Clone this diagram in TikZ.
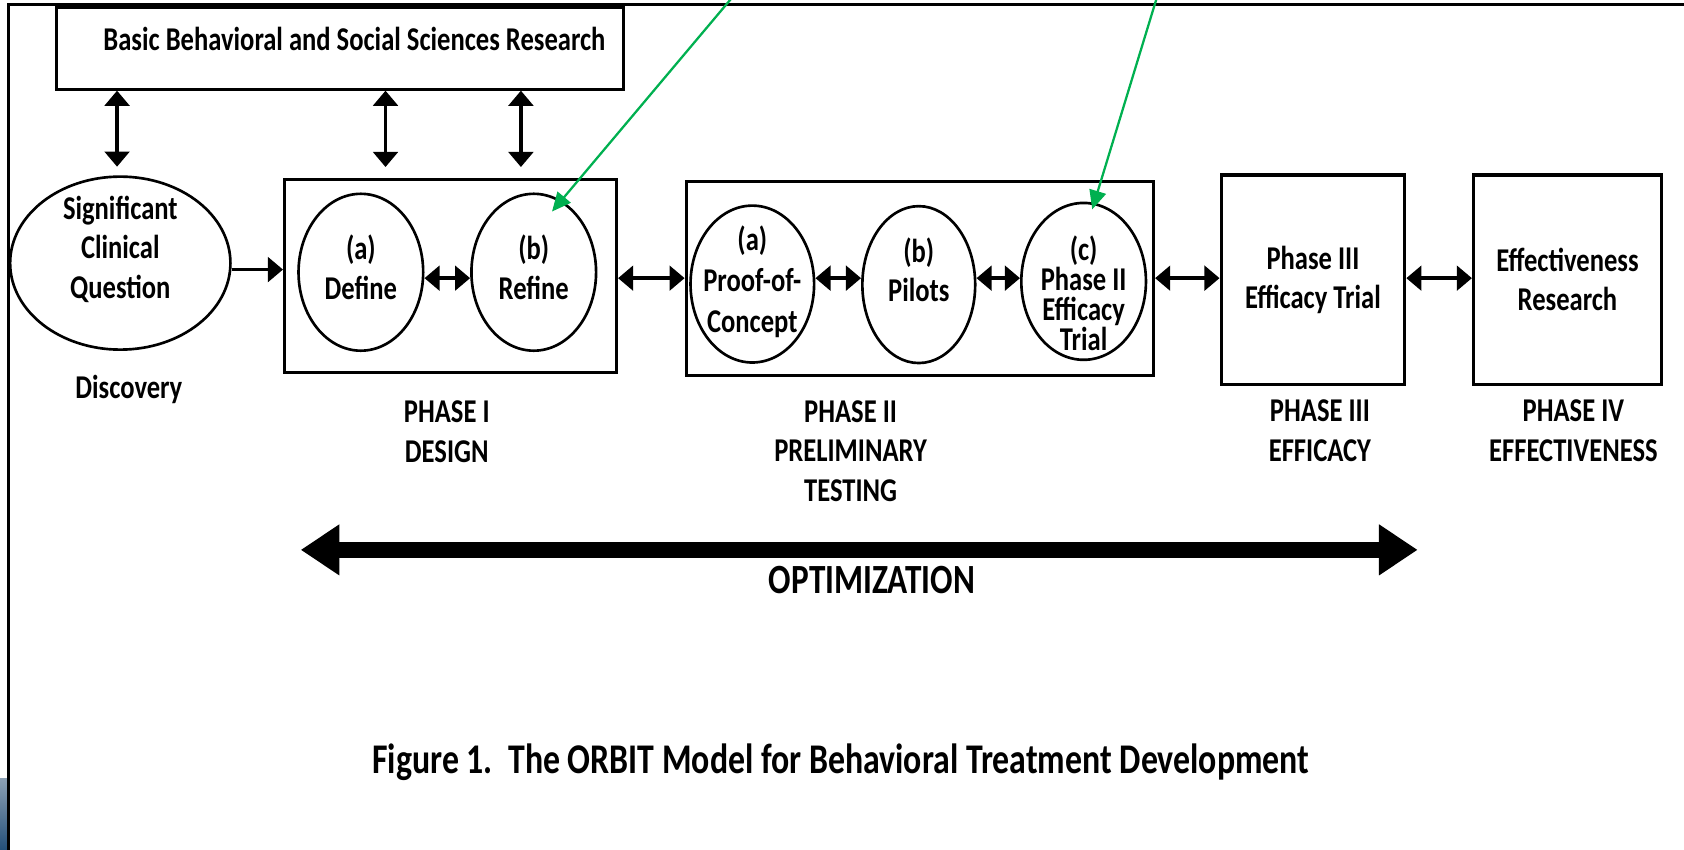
\documentclass[tikz,border=0pt]{standalone}
\usepackage{fontspec}
\setmainfont{Carlito}[FakeStretch=0.80]
\usepackage{tikz}
\usetikzlibrary{arrows.meta,shapes.geometric,positioning}
\definecolor{notegreen}{RGB}{0,176,80}
\definecolor{slideblue}{RGB}{36,80,122}
\definecolor{slidegrey}{RGB}{140,160,180}

\begin{document}
\begin{tikzpicture}[x=0.01cm, y=-0.01cm,
            every node/.style = {font=\bfseries\fontsize{8.8}{10.4}\selectfont,
                    align=center, inner sep=0pt},
            box/.style = {shape=rectangle, draw, line width=0.8pt},
            stage/.style = {shape=ellipse, draw, line width=0.7pt,
                    minimum width=1.16cm, minimum height=1.46cm},
            link/.style = {line width=0.9pt, >={Triangle[length=4pt,width=6.5pt]}},
            callout/.style = {draw=notegreen, line width=0.6pt,
                    -{Triangle[length=5pt,width=4.5pt]}},
            big/.style = {font=\bfseries\fontsize{11}{13}\selectfont}]
    \useasboundingbox (0,0) rectangle (1568,791);
    \fill[top color=slidegrey, bottom color=slideblue] (0,725) rectangle (7,791);
    \draw[line width=0.8pt] (8,791) -- (8,4.5) -- (1568,4.5);

    \node[box, minimum width=5.27cm, minimum height=0.76cm] (basic) at (316.5,45) {};
    \node (basictext) at (330,36) {Basic Behavioral and Social Sciences Research};

    \node[stage, minimum width=2.05cm, minimum height=1.61cm,
        label={[yshift=0.13cm]center:Significant\\Clinical\\Question}] (question) at (112,245) {};
    \node (discovery) at (120,363) {Discovery};

    \node[box, minimum width=3.09cm, minimum height=1.80cm] (design) at (419.5,257) {};
    \node[stage, label={[yshift=0.045cm]center:(a)\\Define}] (define) at (336,253.5) {};
    \node[stage, label={[yshift=0.045cm]center:(b)\\Refine}] (refine) at (497,253.5) {};

    \node[box, minimum width=4.35cm, minimum height=1.81cm] (testing) at (856.5,259.5) {};
    \node[stage, minimum width=1.15cm,
        label={[yshift=0.02cm, font=\bfseries\fontsize{8.8}{10.8}\selectfont]center:(a)\\Proof-of-\\Concept}] (proof) at (700.5,264.5) {};
    \node[stage, minimum width=1.05cm,
        label={[yshift=0.14cm]center:(b)\\Pilots}] (pilots) at (855.5,265) {};
    \node[stage,
        label={[yshift=-0.11cm, font=\bfseries\fontsize{8.8}{8}\selectfont]center:(c)\\Phase II\\Efficacy\\Trial}] (trial2) at (1009,262) {};

    \node[box, minimum width=1.71cm, minimum height=1.95cm] (efficacy) at (1222.5,260.5) {Phase III\\Efficacy Trial};
    \node[box, minimum width=1.75cm, minimum height=1.95cm] (effect) at (1459.5,260.5) {Effectiveness\\Research};

    \node (label1) at (416,402) {PHASE I\\DESIGN};
    \node (label2) at (792,420) {PHASE II\\PRELIMINARY\\TESTING};
    \node (label3) at (1229,401) {PHASE III\\EFFICACY};
    \node (label4) at (1465,401) {PHASE IV\\EFFECTIVENESS};

    % links to the basic research box
    \draw[link, <->] ([xshift=-0.03cm]question.north |- basic.south) -- ([xshift=-0.03cm, yshift=0.08cm]question.north);
    \draw[link, <->] ([xshift=-0.605cm]design.north |- basic.south) -- ([xshift=-0.605cm, yshift=0.1cm]design.north);
    \draw[link, <->] ([xshift=0.655cm]design.north |- basic.south) -- ([xshift=0.655cm, yshift=0.1cm]design.north);

    % the main row
    \coordinate (row) at (0,259);
    \draw[link, ->] ([yshift=-0.06cm]question.east) -- ([yshift=-0.06cm]question.east -| design.west);
    \draw[link, <->] (define.east |- row) -- (refine.west |- row);
    \draw[link, <->] (design.east |- row) -- (testing.west |- row);
    \draw[link, <->] (proof.east |- row) -- (pilots.west |- row);
    \draw[link, <->] (pilots.east |- row) -- (trial2.west |- row);
    \draw[link, <->] (testing.east |- row) -- (efficacy.west |- row);
    \draw[link, <->] (efficacy.east |- row) -- (effect.west |- row);

    \coordinate (optstart) at (280,512);
    \coordinate (optend) at (1320,512);
    \draw[line width=0.15cm, {Triangle[length=0.36cm,width=0.45cm]}-{Triangle[length=0.36cm,width=0.45cm]}] (optstart) -- (optend);
    \node[big] (optim) at (812,540) {OPTIMIZATION};

    \node[big, font=\bfseries\fontsize{11.2}{13}\selectfont] (caption) at (783,710) {Figure 1.\ \ The ORBIT Model for Behavioral Treatment Development};

    \coordinate (noteA) at (684,-5);
    \coordinate (noteB) at (1078,-5);
    \draw[callout] (noteA) -- ([xshift=0.17cm, yshift=0.565cm]refine.center);
    \draw[callout] (noteB) -- ([xshift=0.08cm, yshift=0.67cm]trial2.center);
\end{tikzpicture}
\end{document}
